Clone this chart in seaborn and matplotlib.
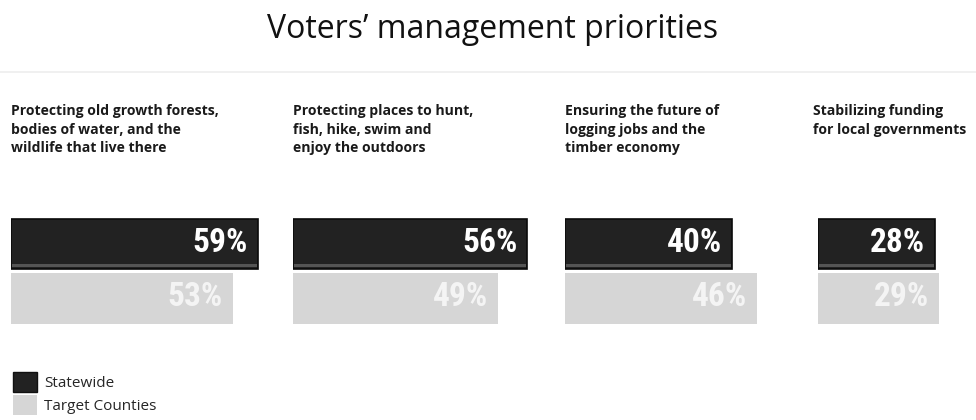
import matplotlib
matplotlib.use("Agg")
import matplotlib.pyplot as plt
from matplotlib.patches import Patch
import seaborn as sns
import pandas as pd

# ---- data ----
categories = [
    "Protecting old growth forests,\nbodies of water, and the\nwildlife that live there",
    "Protecting places to hunt,\nfish, hike, swim and\nenjoy the outdoors",
    "Ensuring the future of\nlogging jobs and the\ntimber economy",
    "Stabilizing funding\nfor local governments",
]
series = ["Statewide", "Target Counties"]
statewide = [59, 56, 40, 28]
target_counties = [53, 49, 46, 29]
title = "Voters\u2019 management priorities"

colors = {"Statewide": "#222222", "Target Counties": "#d6d6d6"}

sns.set_theme(style="white")
plt.rcParams["font.family"] = ["Open Sans", "DejaVu Sans"]

W, H = 976, 420
fig = plt.figure(figsize=(W / 100, H / 100), dpi=100)
fig.patch.set_facecolor("white")

px_per_unit = 4.18
lefts = [11, 293, 565, 818]
text_lefts = [11, 293, 565, 813]
widths = [270, 270, 250, 158]
ax_top, ax_h = 216.75, 109.0

fig.text(493 / W, 1 - 29 / H, title, ha="center", va="center", fontsize=23,
         color="#111111", family=["Open Sans", "DejaVu Sans"])
fig.add_artist(plt.Line2D([0, 1], [1 - 72 / H, 1 - 72 / H], color="#eeeeee", lw=1.2))

for i, cat in enumerate(categories):
    x0, w = lefts[i], widths[i]
    ax = fig.add_axes([x0 / W, 1 - (ax_top + ax_h) / H, w / W, ax_h / H])
    df = pd.DataFrame({"series": series, "value": [statewide[i], target_counties[i]]})
    sns.barplot(data=df, x="value", y="series", hue="series", palette=colors,
                orient="h", width=0.93, legend=False, ax=ax, saturation=1)
    for p, s in zip(ax.patches, series):
        if s == "Statewide":
            p.set_edgecolor("#0a0a0a")
            p.set_linewidth(1.2)
        else:
            p.set_edgecolor("none")
    # bottom grey strip on dark bar
    ax.barh([0.395], [statewide[i] - 0.5], left=0.25, height=0.065, color="#555555",
            zorder=3, linewidth=0)
    ax.set_xlim(0, w / px_per_unit)
    ax.set_ylim(1.5, -0.5)
    ax.axis("off")
    for yy, v, c in [(0, statewide[i], "white"), (1, target_counties[i], "#f4f4f4")]:
        ax.annotate(f"{v}%", xy=(v, yy - 0.02), xytext=(-7, 0), textcoords="offset points",
                    ha="right", va="center", fontsize=24, color=c, fontweight="bold",
                    fontstretch="condensed",
                    family=["Roboto Condensed", "Liberation Sans Narrow", "DejaVu Sans"],
                    zorder=4)
    fig.text(text_lefts[i] / W, 1 - 104 / H, cat, ha="left", va="top", fontsize=10.1,
             fontweight="bold", color="#1a1a1a", linespacing=1.42,
             family=["Open Sans", "DejaVu Sans"])

handles = [Patch(facecolor=colors[s], edgecolor="#111111" if s == "Statewide" else "none")
           for s in series]
fig.legend(handles, series, loc="upper left", bbox_to_anchor=(13 / W, 1 - 372 / H),
           frameon=False, fontsize=11, handlelength=1.6, handleheight=1.65,
           labelspacing=0.2, handletextpad=0.45, borderpad=0, borderaxespad=0)

fig.savefig("out.png", dpi=100, facecolor="white")
